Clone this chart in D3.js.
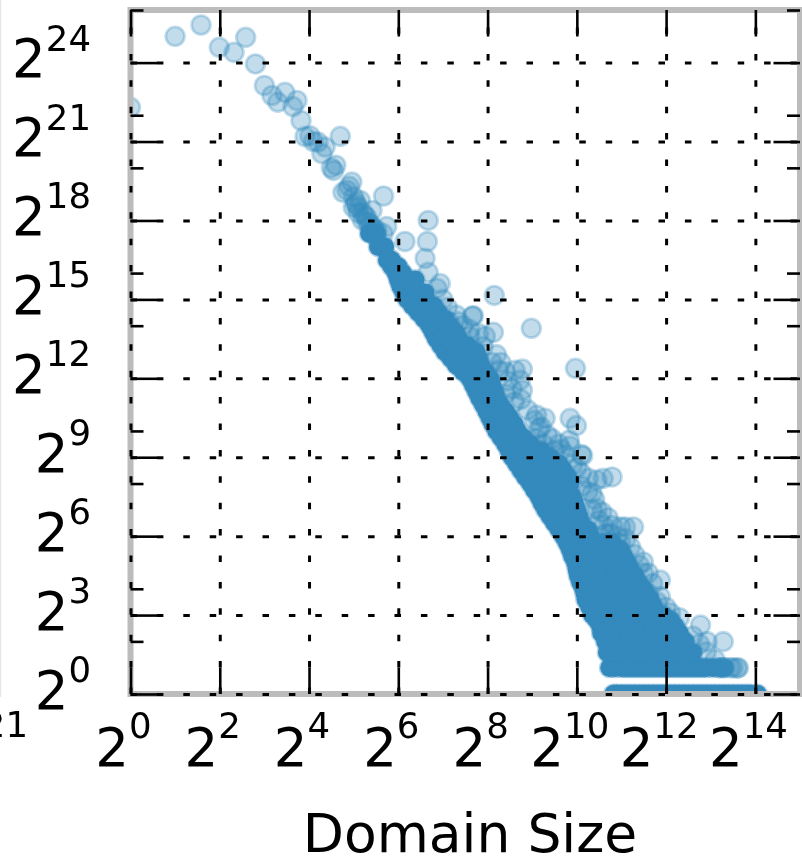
<!DOCTYPE html>
<html>
<head>
<meta charset="utf-8">
<script src="https://cdn.jsdelivr.net/npm/d3@7"></script>
<style>
  html, body { margin: 0; padding: 0; background: #fff; }
  svg { display: block; filter: blur(0.6px); font-family: "DejaVu Sans", sans-serif; }
</style>
</head>
<body>
<svg id="chart" width="802" height="859"></svg>
<script>
// all values are log2 exponents
const xLabelExps = [0, 2, 4, 6, 8, 10, 12, 14];
const yLabelExps = [0, 3, 6, 9, 12, 15, 18, 21, 24];
const yMinorExps = [2, 4, 8, 10, 14, 16, 20, 22, 26];

// single, still readable circles: [log2 domain size, log2 count]
const loosePoints = [
  [0, 22.3], [1, 25], [1.58, 25.43], [1.99, 24.58], [2.32, 24.39], [2.58, 24.96], [2.8, 23.95],
  [3, 23.13], [3.46, 22.87], [3.17, 22.75], [3.3, 22.5], [3.73, 22.56], [3.64, 22.33], [3.82, 21.8],
  [3.91, 21.19], [4.02, 21.22], [4.2, 20.98], [4.36, 20.79], [4.7, 21.2], [4.29, 20.54], [4.1, 21],
  [4.5, 20], [4.6, 20.1], [4.55, 19.9], [4.96, 19.46], [4.85, 19.15], [4.76, 19.07], [4.9, 19.3],
  [5.67, 18.93], [5.15, 18.76], [5.41, 18.38], [4.99, 18.5], [5.1, 18.28], [5.2, 18], [5.05, 18.6],
  [5.52, 17.63], [5.66, 17.5], [5.74, 17.77], [5.3, 18.1], [5.35, 17.9], [5.45, 17.7], [5.5, 17.4],
  [5, 18.9], [5.05, 18.7], [5.1, 18.5], [5.2, 18.3], [5.25, 18.2], [5.3, 17.95],
  [5.4, 17.8], [5.45, 17.6], [5.5, 17.5],
  [6.67, 18], [6.65, 17.2], [6.15, 17.2], [6.6, 16.56], [6.67, 16.03], [6.94, 15.6], [6.87, 15.42],
  [8.15, 15.15], [8.98, 13.9], [8.13, 13.75], [7.66, 14.36], [7.68, 14.38], [7.14, 14.13], [7.6, 13.6],
  [9.97, 12.38], [8.62, 12.3], [8.78, 12.35], [8.73, 11.93], [8.78, 11.55], [8.4, 12.25], [8.1, 12.6],
  [9.29, 10.48], [9.85, 10.48], [9.99, 10.2], [9.34, 9.84], [9.83, 9.65], [9.85, 9.42], [10.1, 9.1],
  [10.13, 9.06], [9.6, 9.5], [9.15, 10.1], [9.1, 10.6],
  [10.79, 8.25], [10.59, 8.2], [10.45, 8.13], [10.26, 8.2], [10.56, 6.92], [10.45, 7.05], [10.34, 7.63],
  [11.27, 6.35], [11.09, 6.35], [10.98, 6.35], [10.53, 6], [10.98, 5.73], [10.75, 6.1],
  [11.49, 5.02], [11.49, 4.6], [11.87, 4.33], [11.87, 3.7], [12.1, 3.08], [12.77, 2.62], [12.92, 1.99],
  [13.28, 1.99], [13.59, 0.98], [13.44, 1], [13.5, 1], [13.62, 1],
  // fringe on the upper right of the cloud
  [7, 15], [7.1, 14.7], [7.3, 14.4], [7.45, 14], [7.6, 13.85], [7.8, 13.7], [7.95, 13.6], [7.35, 14.15],
  [7.9, 13.2], [8.2, 12.9], [8.3, 12.6], [8.25, 12.3], [8.45, 11.9], [8.55, 11.6], [8.4, 11.4], [8.6, 11.1],
  [8.75, 11.2], [8.9, 10.8], [9.05, 10.4], [9.2, 10.15], [9.1, 9.7], [9.25, 9.5], [9.45, 9.7], [9.5, 9.25],
  [9.65, 9.3], [9.75, 9.1], [9.9, 8.7], [10, 8.6], [10.1, 8.4], [10.1, 7.9], [10.25, 7.7], [10.4, 7.4],
  [10.35, 7], [10.5, 6.6], [10.6, 6.4], [10.7, 6.7], [10.8, 6.4], [10.65, 6.1], [10.9, 6], [11.1, 5.9],
  [11.2, 5.6], [11.3, 5.3], [11.4, 4.9], [11.6, 4.6], [11.7, 4.2], [11.6, 3.8], [11.8, 3.5], [12, 3.3],
  [12.3, 2.9], [12.6, 2.2], [12.75, 1.9], [12.9, 1.6], [13.1, 1.3], [13.2, 1], [13.3, 1]
];

// packed part of the cloud, row by row: one count exponent, many domain exponents
const packedCounts = [
  0, 1, 1.58, 2, 2.32, 2.58, 2.81, 3, 3.32, 3.58, 3.81, 4, 4.25, 4.5, 4.75, 5, 5.25, 5.5, 5.75, 6,
  6.25, 6.5, 6.75, 7, 7.25, 7.5, 7.75, 8, 8.25, 8.5, 8.75, 9, 9.25, 9.5, 9.75, 10, 10.25, 10.5, 10.75, 11,
  11.25, 11.5, 11.75, 12, 12.25, 12.5, 12.75, 13, 13.25, 13.5, 13.75, 14, 14.25, 14.5, 14.75, 15, 15.25, 15.5, 15.75, 16,
  16.25, 16.5, 17, 17.5
];
const packedDomains = [
  [10.82, 10.9, 11, 11.1, 11.2, 11.3, 11.4, 11.5, 11.6, 11.7, 11.8, 11.9, 12, 12.1, 12.2, 12.3, 12.4, 12.5, 12.6, 12.7, 12.8, 12.9, 13, 13.1, 13.2, 13.3, 13.4, 13.5, 13.6, 13.7, 13.8, 13.9, 14.05],
  [10.73, 10.85, 11, 11.1, 11.2, 11.3, 11.4, 11.5, 11.6, 11.7, 11.8, 11.9, 12, 12.1, 12.2, 12.3, 12.4, 12.5, 12.6, 12.7, 12.8, 12.9, 13.05, 13.2, 13.3],
  [10.68, 11, 11.3, 11.6, 11.9, 12.2, 12.45, 12.6],
  [10.64, 10.95, 11.25, 11.55, 11.85, 12.15, 12.43],
  [10.55, 10.85, 11.15, 11.45, 11.75, 12.05, 12.3],
  [10.53, 10.8, 11.1, 11.4, 11.7, 11.95, 12.2],
  [10.45, 10.75, 11.05, 11.35, 11.65, 11.95, 12.1],
  [10.35, 10.65, 10.95, 11.25, 11.55, 11.8, 11.94],
  [10.28, 10.58, 10.88, 11.18, 11.48, 11.72],
  [10.2, 10.5, 10.8, 11.1, 11.4, 11.65],
  [10.18, 10.48, 10.78, 11.08, 11.38, 11.55],
  [10.15, 10.45, 10.75, 11.05, 11.3, 11.49],
  [10.08, 10.38, 10.68, 10.98, 11.28, 11.38],
  [10.03, 10.33, 10.63, 10.93, 11.15, 11.3],
  [10, 10.28, 10.58, 10.88, 11.2],
  [9.97, 10.25, 10.55, 10.85, 11.13],
  [9.9, 10.18, 10.48, 10.78, 11.05],
  [9.85, 10.12, 10.4, 10.7, 10.97],
  [9.78, 10.05, 10.35, 10.6, 10.8],
  [9.7, 9.95, 10.15, 10.3],
  [9.6, 9.85, 10.1, 10.25],
  [9.5, 9.75, 10, 10.1],
  [9.4, 9.65, 9.9, 10.05],
  [9.3, 9.55, 9.8, 10],
  [9.22, 9.47, 9.72, 9.95],
  [9.15, 9.4, 9.65, 9.9],
  [9.05, 9.3, 9.55, 9.8],
  [8.96, 9.2, 9.45, 9.7, 9.85],
  [8.85, 9.1, 9.35, 9.6, 9.8],
  [8.75, 9, 9.25, 9.5, 9.7],
  [8.65, 8.9, 9.15, 9.4, 9.6],
  [8.55, 8.85, 9.15, 9.4],
  [8.48, 8.75, 9, 9.2],
  [8.4, 8.7, 8.96],
  [8.3, 8.55, 8.8],
  [8.2, 8.45, 8.67],
  [8.12, 8.38, 8.6],
  [8.05, 8.3, 8.5],
  [7.98, 8.2, 8.4],
  [7.9, 8.1, 8.28],
  [7.82, 8.05, 8.2],
  [7.75, 8, 8.15],
  [7.68, 7.92, 8.1],
  [7.6, 7.85, 8.05],
  [7.45, 7.7, 7.95],
  [7.3, 7.6, 7.85],
  [7.18, 7.5, 7.8],
  [7.05, 7.4, 7.75],
  [6.95, 7.25, 7.55],
  [6.85, 7.1, 7.35],
  [6.78, 7, 7.28],
  [6.7, 7.15],
  [6.58, 6.9, 7.05],
  [6.45, 6.9],
  [6.32, 6.55, 6.8],
  [6.2, 6.6],
  [6.12, 6.4, 6.6],
  [6.05, 6.35],
  [6, 6.2, 6.38],
  [5.95, 6.1],
  [5.85, 6],
  [5.75, 5.85],
  [5.55, 5.7],
  [5.35, 5.5]
];

const margin = { top: 10, right: 2, bottom: 165, left: 130.5 },
  width = 802 - margin.left - margin.right,
  height = 859 - margin.top - margin.bottom;

const blue = "#348abd", spineGrey = "#bcbcbc";

const pow2 = e => Math.pow(2, e);

const x = d3.scaleLog().base(2).domain([pow2(0), pow2(15)]).range([0, width]);
const y = d3.scaleLog().base(2).domain([pow2(0), pow2(26)]).range([height, 0]);

const svg = d3.select("#chart");

// faint edge of the neighbouring panel and its cut off tick label
svg.append("line")
  .attr("x1", 0.5).attr("x2", 0.5).attr("y1", 0).attr("y2", 697)
  .attr("stroke", "#e6e6e6").attr("stroke-width", 1.5);

svg.append("text")
  .attr("x", 28).attr("y", 737)
  .attr("text-anchor", "end")
  .attr("font-size", 35.5)
  .text("21");

const g = svg.append("g")
  .attr("transform", "translate(" + margin.left + "," + margin.top + ")");

g.append("clipPath").attr("id", "plot")
  .append("rect").attr("width", width).attr("height", height);

// ADD POINTS
const marks = g.append("g").attr("clip-path", "url(#plot)");

marks.selectAll(".loose")
  .data(loosePoints)
  .enter().append("circle")
  .attr("class", "loose")
  .attr("cx", d => x(pow2(d[0])))
  .attr("cy", d => y(pow2(d[1])))
  .attr("r", 9.4)
  .attr("fill", blue).attr("fill-opacity", 0.3)
  .attr("stroke", blue).attr("stroke-opacity", 0.3).attr("stroke-width", 2.8);

const packedPoints = packedCounts.flatMap((c, i) => packedDomains[i].map(d => [d, c]));

marks.selectAll(".packed")
  .data(packedPoints)
  .enter().append("circle")
  .attr("class", "packed")
  .attr("cx", d => x(pow2(d[0])))
  .attr("cy", d => y(pow2(d[1])))
  .attr("r", 9.2)
  .attr("fill", blue)
  .attr("stroke", blue).attr("stroke-opacity", 0.35).attr("stroke-width", 2.8);

// ADD SPINES
g.append("rect")
  .attr("width", width).attr("height", height)
  .attr("fill", "none")
  .attr("stroke", spineGrey).attr("stroke-width", 6);

// ADD GRID, over the points and the spines
const gridStyle = sel => {
  sel.select(".domain").remove();
  sel.selectAll("text").remove();
  sel.selectAll("line")
    .attr("stroke", "#000")
    .attr("stroke-width", 3)
    .attr("stroke-dasharray", "6.5 19.9");
};

g.append("g")
  .attr("transform", "translate(0," + height + ")")
  .call(d3.axisBottom(x).tickValues(xLabelExps.map(pow2)).tickSize(-height))
  .call(gridStyle);

g.append("g")
  .call(d3.axisLeft(y).tickValues(yLabelExps.map(pow2)).tickSize(-width))
  .call(gridStyle);

// ADD TICKS
const tickStyle = sel => {
  sel.select(".domain").remove();
  sel.selectAll("text").remove();
  sel.selectAll("line").attr("stroke", "#000").attr("stroke-width", 2.6);
};

const tickLen = 26.5, minorLen = 13;

g.append("g").attr("transform", "translate(0," + height + ")")
  .call(d3.axisBottom(x).tickValues(xLabelExps.map(pow2)).tickSize(-tickLen)).call(tickStyle);
g.append("g")
  .call(d3.axisTop(x).tickValues(xLabelExps.map(pow2)).tickSize(-tickLen)).call(tickStyle);
g.append("g")
  .call(d3.axisLeft(y).tickValues(yLabelExps.map(pow2)).tickSize(-tickLen)).call(tickStyle);
g.append("g").attr("transform", "translate(" + width + ",0)")
  .call(d3.axisRight(y).tickValues(yLabelExps.map(pow2)).tickSize(-tickLen)).call(tickStyle);
g.append("g")
  .call(d3.axisLeft(y).tickValues(yMinorExps.map(pow2)).tickSize(-minorLen)).call(tickStyle);
g.append("g").attr("transform", "translate(" + width + ",0)")
  .call(d3.axisRight(y).tickValues(yMinorExps.map(pow2)).tickSize(-minorLen)).call(tickStyle);

// ADD TICK LABELS
const powerLabel = (sel, rise) => {
  sel.append("tspan").attr("font-size", 53).text("2");
  sel.append("tspan").attr("font-size", 35.5).attr("dy", -rise).text(d => d);
};

g.selectAll(".ylabel")
  .data(yLabelExps)
  .enter().append("text")
  .attr("class", "ylabel")
  .attr("x", 91 - margin.left)
  .attr("y", d => y(pow2(d)) + 14.5)
  .attr("text-anchor", "end")
  .call(powerLabel, 26.5);

g.selectAll(".xlabel")
  .data(xLabelExps)
  .enter().append("text")
  .attr("class", "xlabel")
  .attr("x", d => x(pow2(d)) - 7)
  .attr("y", 766 - margin.top)
  .attr("text-anchor", "middle")
  .call(powerLabel, 28.5);

// ADD AXIS TITLE
svg.append("text")
  .attr("x", 470).attr("y", 852)
  .attr("text-anchor", "middle")
  .attr("font-size", 53.5)
  .text("Domain Size");
</script>
</body>
</html>
